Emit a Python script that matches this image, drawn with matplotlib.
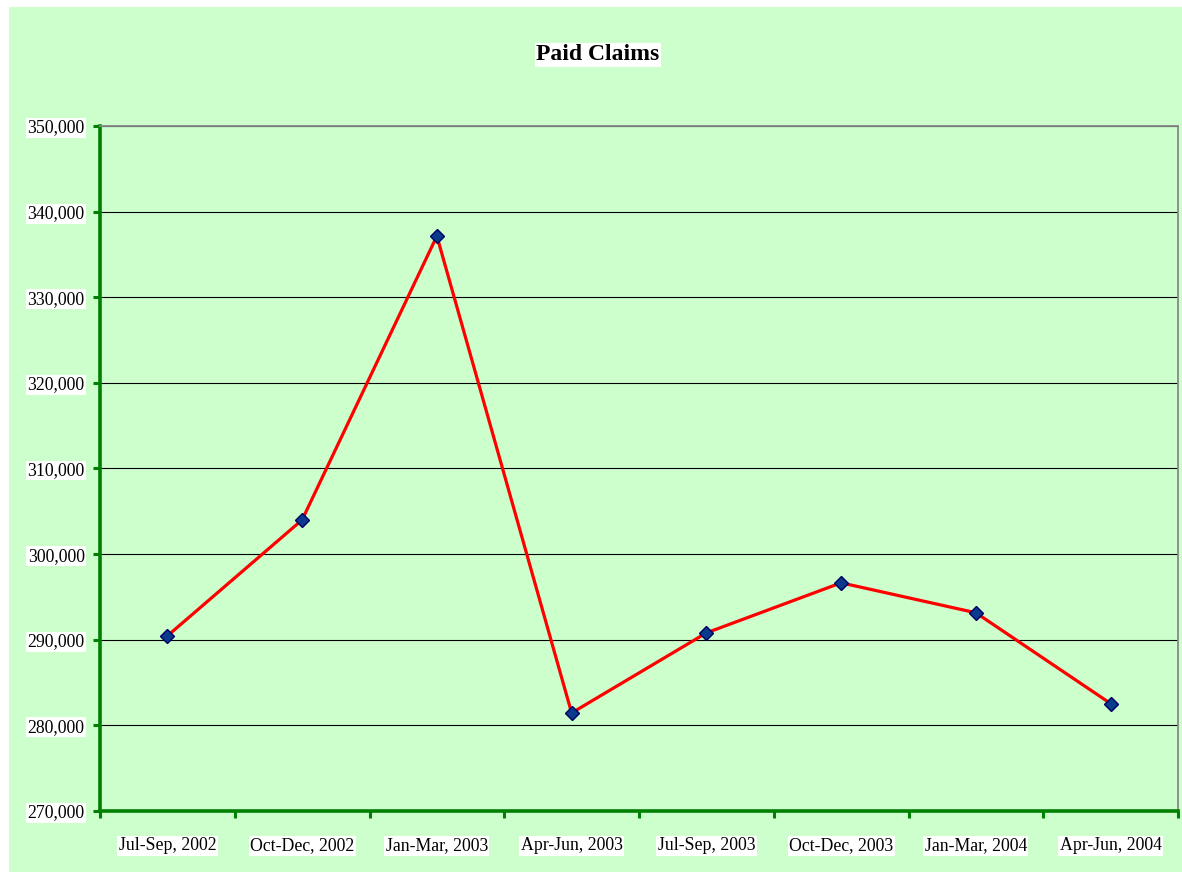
import numpy as np
import matplotlib
matplotlib.use("Agg")
import matplotlib.pyplot as plt
from matplotlib.patches import Rectangle
from matplotlib.ticker import FuncFormatter, FixedLocator

quarters = ["Jul-Sep, 2002", "Oct-Dec, 2002", "Jan-Mar, 2003", "Apr-Jun, 2003",
            "Jul-Sep, 2003", "Oct-Dec, 2003", "Jan-Mar, 2004", "Apr-Jun, 2004"]
paid_claims = [290450, 304000, 337150, 281450, 290800, 296650, 293150, 282550]
y_ticks = [270000, 280000, 290000, 300000, 310000, 320000, 330000, 340000, 350000]

BG = "#CCFFCC"
plt.rcParams["font.family"] = ["Liberation Serif", "DejaVu Serif"]

fig = plt.figure(figsize=(11.82, 8.72), dpi=100)
fig.patch.set_facecolor("white")
# green chart area (starts a few pixels in from the left/top)
fig.patches.append(Rectangle((9 / 1182, 0), 1, 1 - 7 / 872, transform=fig.transFigure,
                             facecolor=BG, edgecolor="none", zorder=-10))

ax = fig.add_axes([100 / 1182, 1 - 811 / 872, 1078 / 1182, (811 - 126) / 872])
ax.set_facecolor(BG)

x = np.arange(len(quarters)) + 0.5
ax.plot(x, paid_claims, color="#FF0000", lw=2.3, zorder=3,
        marker="D", ms=7.3, mfc="#0A3A8C", mec="#000066", mew=1.0)

ax.set_xlim(0, len(quarters))
ax.set_ylim(y_ticks[0], y_ticks[-1])

ax.xaxis.set_major_locator(FixedLocator(np.arange(len(quarters) + 1)))
ax.xaxis.set_minor_locator(FixedLocator(x))
ax.set_xticklabels([], minor=False)
ax.set_xticks(x, quarters, minor=True)
ax.tick_params(axis="x", which="major", length=5, width=2.2, color="#008000", direction="out")
ax.tick_params(axis="x", which="minor", length=0, pad=19, labelsize=12.8)

ax.set_yticks(y_ticks)
ax.yaxis.set_major_formatter(FuncFormatter(lambda v, p: f"{int(v):,}"))
ax.tick_params(axis="y", length=5, width=2.2, color="#008000", direction="out",
               pad=6, labelsize=12.8)

for lab in ax.get_yticklabels() + ax.get_xticklabels(minor=True):
    lab.set_bbox(dict(facecolor="white", edgecolor="none", pad=1))

ax.grid(axis="y", color="black", lw=0.8)
ax.set_axisbelow(True)

for side in ("left", "bottom"):
    ax.spines[side].set_color("#008000")
    ax.spines[side].set_linewidth(2.6)
for side in ("top", "right"):
    ax.spines[side].set_color("#888888")
    ax.spines[side].set_linewidth(1.3)

fig.text(598 / 1182, 1 - 55 / 872, "Paid Claims", ha="center", va="center",
         fontsize=17, fontweight="bold",
         bbox=dict(facecolor="white", edgecolor="none", pad=1))

fig.savefig("out.png", dpi=100, facecolor=fig.get_facecolor())
